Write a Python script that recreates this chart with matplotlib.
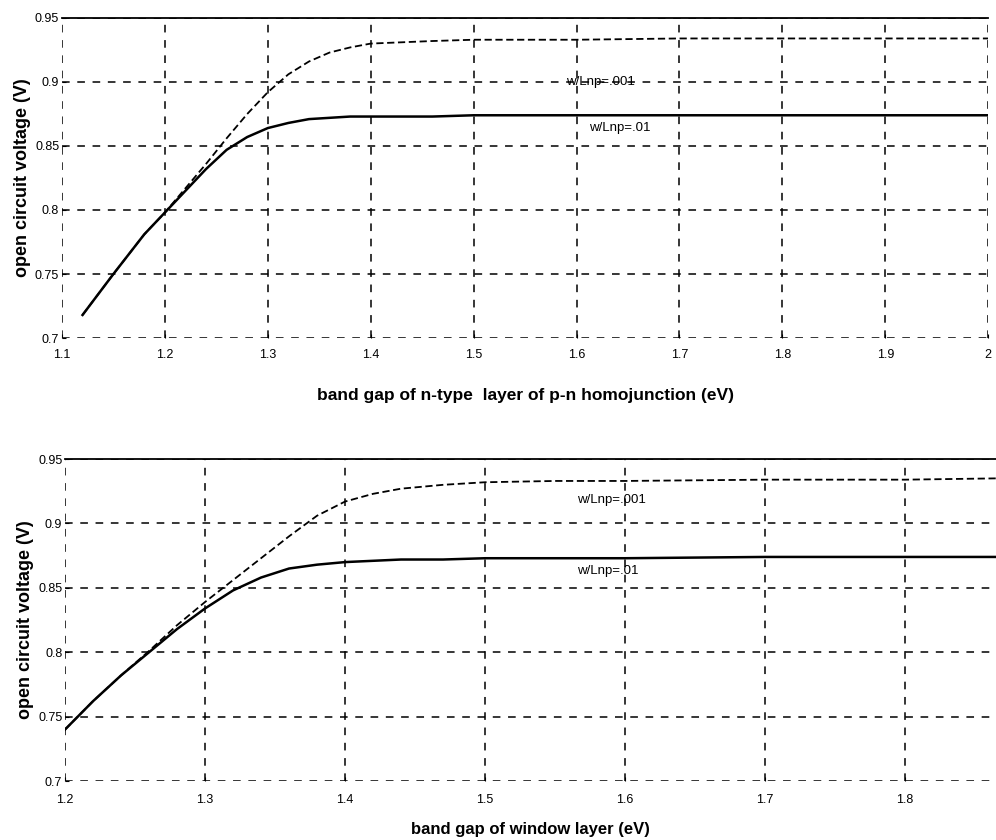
import numpy as np
import matplotlib.pyplot as plt

plt.rcParams['font.family'] = ['Liberation Sans Narrow', 'Liberation Sans', 'DejaVu Sans']

# top panel: p-n homojunction
eg_top = [1.12, 1.15, 1.18, 1.20, 1.22, 1.24, 1.26, 1.28, 1.30, 1.32, 1.34, 1.36, 1.38, 1.40,
          1.43, 1.46, 1.50, 1.60, 1.70, 1.80, 1.90, 2.00]
voc_top_001 = [0.718, 0.750, 0.781, 0.798, 0.817, 0.836, 0.856, 0.875, 0.892, 0.906, 0.916, 0.923,
               0.927, 0.930, 0.931, 0.932, 0.933, 0.933, 0.934, 0.934, 0.934, 0.934]
voc_top_01 = [0.718, 0.750, 0.781, 0.798, 0.815, 0.832, 0.847, 0.857, 0.864, 0.868, 0.871, 0.872,
              0.873, 0.873, 0.873, 0.873, 0.874, 0.874, 0.874, 0.874, 0.874, 0.874]

# bottom panel: window layer
eg_bot = [1.20, 1.22, 1.24, 1.26, 1.28, 1.30, 1.32, 1.34, 1.36, 1.38, 1.40, 1.42, 1.44, 1.47,
          1.50, 1.55, 1.60, 1.70, 1.80, 1.865]
voc_bot_001 = [0.740, 0.762, 0.782, 0.801, 0.821, 0.839, 0.856, 0.873, 0.890, 0.906, 0.917, 0.923,
               0.927, 0.930, 0.932, 0.933, 0.933, 0.934, 0.934, 0.935]
voc_bot_01 = [0.740, 0.762, 0.782, 0.800, 0.818, 0.834, 0.848, 0.858, 0.865, 0.868, 0.870, 0.871,
              0.872, 0.872, 0.873, 0.873, 0.873, 0.874, 0.874, 0.874]

yticks = [0.7, 0.75, 0.8, 0.85, 0.9, 0.95]
ylabels = ['0.7', '0.75', '0.8', '0.85', '0.9', '0.95']

fig = plt.figure(figsize=(9.96, 8.4), dpi=100)
ax1 = fig.add_axes([0.0622, 0.5976, 0.930, 0.381])
ax2 = fig.add_axes([0.0653, 0.0702, 0.9347, 0.3833])


def style(ax, xt, xl, xlim, xpad):
    ax.set_xlim(*xlim)
    ax.set_ylim(0.7, 0.95)
    ax.set_yticks(yticks)
    ax.set_yticklabels(ylabels)
    ax.set_xticks(xt)
    ax.set_xticklabels(xl)
    ax.grid(True, color='black', linestyle=(0, (5, 5)), linewidth=1.1)
    for s in ['left', 'bottom', 'right']:
        ax.spines[s].set_visible(False)
    ax.spines['top'].set_linewidth(1.3)
    ax.tick_params(direction='in', length=3, labelsize=9)
    ax.tick_params(axis='y', pad=2)
    ax.tick_params(axis='x', pad=xpad)
    ax.set_ylabel('open circuit voltage (V)', fontsize=13, fontweight='bold',
                  family=['Liberation Sans', 'DejaVu Sans'], labelpad=3)


style(ax1, [1.1, 1.2, 1.3, 1.4, 1.5, 1.6, 1.7, 1.8, 1.9, 2.0],
      ['1.1', '1.2', '1.3', '1.4', '1.5', '1.6', '1.7', '1.8', '1.9', '2'], (1.1, 2.0), 8)
style(ax2, [1.2, 1.3, 1.4, 1.5, 1.6, 1.7, 1.8],
      ['1.2', '1.3', '1.4', '1.5', '1.6', '1.7', '1.8'], (1.2, 1.865), 9)

ax1.plot(eg_top, voc_top_001, color='black', linestyle=(0, (4, 2)), linewidth=1.3)
ax1.plot(eg_top, voc_top_01, color='black', linestyle='-', linewidth=1.8)
ax1.text(1.59, 0.9, 'w/Lnp=.001', fontsize=9.5, va='center')
ax1.text(1.612, 0.864, 'w/Lnp=.01', fontsize=9.5, va='center')
ax1.set_xlabel('band gap of n-type  layer of p-n homojunction (eV)', fontsize=12.5,
               fontweight='bold', family=['Liberation Sans', 'DejaVu Sans'], labelpad=19)

ax2.plot(eg_bot, voc_bot_001, color='black', linestyle=(0, (4, 2)), linewidth=1.3)
ax2.plot(eg_bot, voc_bot_01, color='black', linestyle='-', linewidth=1.8)
ax2.text(1.566, 0.918, 'w/Lnp=.001', fontsize=9.5, va='center')
ax2.text(1.566, 0.863, 'w/Lnp=.01', fontsize=9.5, va='center')
ax2.set_xlabel('band gap of window layer (eV)', fontsize=12, fontweight='bold',
               family=['Liberation Sans', 'DejaVu Sans'], labelpad=12)

fig.savefig('out.png', dpi=100)
